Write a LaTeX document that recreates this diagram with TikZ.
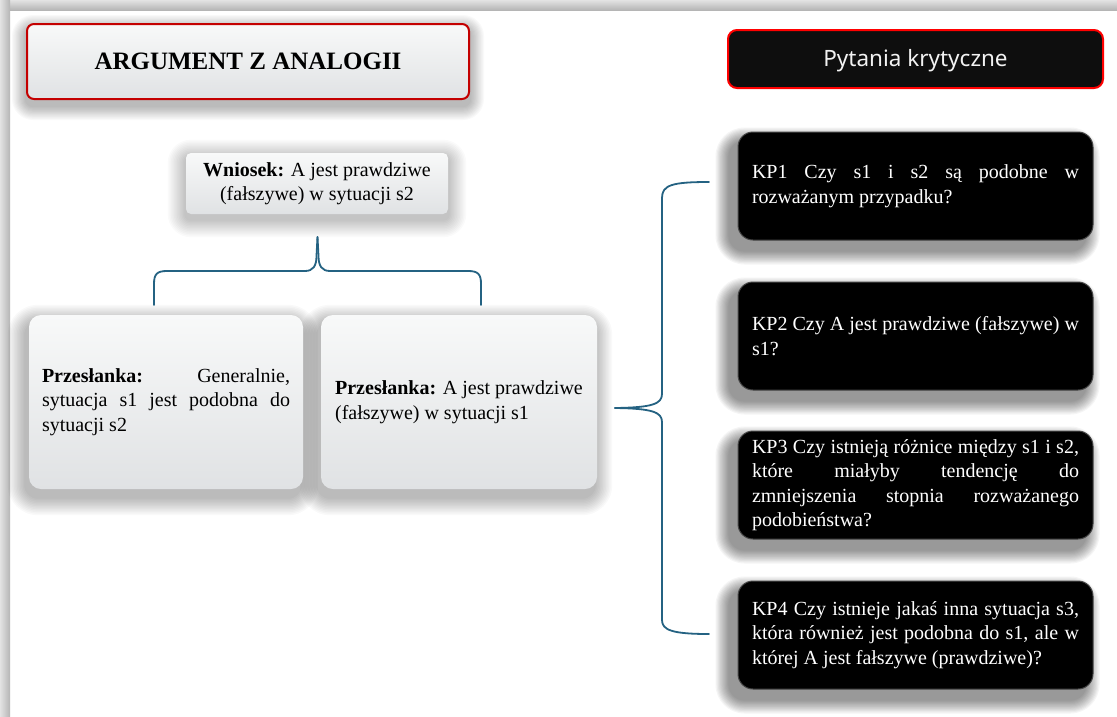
\documentclass[tikz,border=0pt]{standalone}
\usepackage{fontspec}
\setmainfont{Liberation Serif}
\newfontfamily\uisans{Noto Sans}
\usetikzlibrary{calc}
\setlength{\parindent}{0pt}
\hbadness=10000
\definecolor{bracecol}{RGB}{36,98,130}
\definecolor{titlered}{RGB}{196,0,0}
\definecolor{pytred}{RGB}{255,0,0}
\definecolor{pytfill}{RGB}{14,14,14}
\definecolor{boxtop}{RGB}{248,249,249}
\definecolor{boxbot}{RGB}{224,226,228}
\newcommand\bodyfont{\fontsize{20}{24.5}\selectfont}
\pgfdeclarelayer{bgframe}
\pgfdeclarelayer{shadow}
\pgfsetlayers{bgframe,shadow,main}
% #1 node, #2 dx, #3 dy (down), #4 spread, #5 rounding, #6 opacity per layer
\newcommand\shadowof[6]{%
  \foreach \k in {0,...,11}{%
    \pgfmathsetmacro\e{#4*(1-\k/12)}%
    \pgfmathsetmacro\rr{#5+\e}%
    \fill[black, opacity=#6, rounded corners=\rr pt]
      ($(#1.south west)+(#2-\e,#3+\e)$) rectangle ($(#1.north east)+(#2+\e,#3-\e)$);
  }}
\begin{document}
\begin{tikzpicture}[x=1pt,y=-1pt,
  lightbox/.style={rounded corners=12pt, top color=boxtop, bottom color=boxbot,
    font=\bodyfont, text=black},
  kpbox/.style={rounded corners=15pt, fill=black, draw=black!72, line width=1pt, text=white,
    text width=327pt, inner xsep=14pt, align=justify, minimum width=355pt, minimum height=108pt,
    font=\bodyfont},
  brace/.style={draw=bracecol, line width=1.8pt, line cap=round}
]
\useasboundingbox (0,0) rectangle (1117,716);
\begin{pgfonlayer}{bgframe}
\fill[white] (0,0) rectangle (1117,716);
\shade[top color=gray!22, bottom color=gray!58] (0,0) rectangle (1117,10);
\shade[left color=gray!22, right color=gray!58] (0,0) rectangle (10,716);
\end{pgfonlayer}

% headers
\node[draw=titlered, line width=2pt, rounded corners=7pt, top color=boxtop, bottom color=boxbot,
  minimum width=442pt, minimum height=75pt,
  font=\bfseries\fontsize{25}{30}\selectfont] (title) at (248,61.5) {ARGUMENT Z ANALOGII};
\node[draw=pytred, line width=2pt, rounded corners=9pt, fill=pytfill, text=white!95!black,
  minimum width=375pt, minimum height=58pt, text height=17pt, text depth=3pt,
  font=\uisans\fontsize{22.5}{27}\selectfont] (pyt) at (915.5,59) {Pytania krytyczne};

% left structure
\node[lightbox, rounded corners=5pt, minimum width=262pt, minimum height=61pt, align=center]
  (wn) at (317,183.5) {\textbf{Wniosek:} A jest prawdziwe\\(fałszywe) w sytuacji s2};
\node[lightbox, minimum width=274pt, minimum height=174pt, text width=248pt, inner xsep=13pt, align=justify]
  (p1) at (166,402) {\textbf{Przesłanka:} Generalnie,\linebreak sytuacja s1 jest podobna do\linebreak sytuacji s2};
\node[lightbox, minimum width=276pt, minimum height=174pt, align=left]
  (p2) at (459,402) {\textbf{Przesłanka:} A jest prawdziwe\\(fałszywe) w sytuacji s1};

% right structure
\node[kpbox] (kp1) at (915.5,186) {KP1 Czy s1 i s2 są podobne w\linebreak rozważanym przypadku?};
\node[kpbox] (kp2) at (915.5,336) {KP2 Czy A jest prawdziwe (fałszywe) w\linebreak s1?};
\node[kpbox] (kp3) at (915.5,485) {KP3 Czy istnieją różnice między s1 i s2,\linebreak które miałyby tendencję do\linebreak zmniejszenia stopnia rozważanego\linebreak podobieństwa?};
\node[kpbox] (kp4) at (915.5,635) {KP4 Czy istnieje jakaś inna sytuacja s3,\linebreak która również jest podobna do s1, ale w\linebreak której A jest fałszywe (prawdziwe)?};

% shadows
\begin{pgfonlayer}{shadow}
\shadowof{title}{0}{6}{14}{7}{0.022}
\shadowof{wn}{0}{5}{18}{5}{0.02}
\shadowof{p1}{-3}{8}{18}{12}{0.022}
\shadowof{p2}{-3}{8}{18}{12}{0.022}
\shadowof{kp1}{-8}{10}{14}{15}{0.04}
\shadowof{kp2}{-8}{10}{14}{15}{0.04}
\shadowof{kp3}{-8}{10}{14}{15}{0.04}
\shadowof{kp4}{-8}{10}{14}{15}{0.04}
\end{pgfonlayer}

% braces
\coordinate (b1l) at (154,305);
\coordinate (b1r) at (481,305);
\coordinate (b1t) at (317.5,237);
\draw[brace] (b1l) -- (154,284) .. controls (154,274) and (157,271) .. (167,271) -- (305,271)
  .. controls (313,271) and (316.5,266) .. (316.5,256) -- (b1t);
\draw[brace] (b1t) -- (318.5,256) .. controls (318.5,266) and (322,271) .. (330,271) -- (468,271)
  .. controls (478,271) and (481,274) .. (481,284) -- (b1r);

\coordinate (b2t) at (709,182);
\coordinate (b2b) at (709,634);
\coordinate (b2m) at (615,408);
\draw[brace] (b2t) .. controls (672,182) and (662,185) .. (662,198) -- (662,394)
  .. controls (662,404) and (652,407.5) .. (b2m);
\draw[brace] (b2m) .. controls (652,408.5) and (662,412) .. (662,422) -- (662,620)
  .. controls (662,630) and (672,634) .. (b2b);
\end{tikzpicture}
\end{document}
